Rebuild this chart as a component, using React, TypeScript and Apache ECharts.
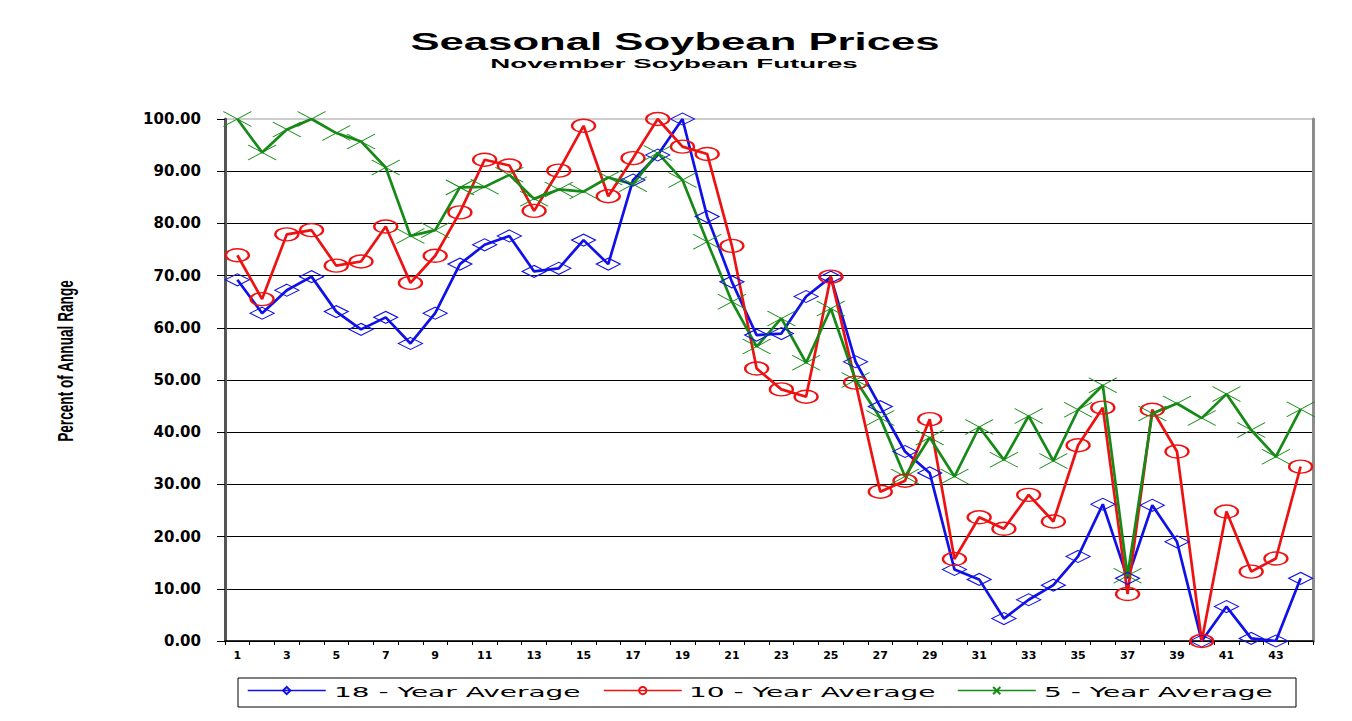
import { useEffect, useRef } from "react";
import * as echarts from "echarts";

// Week numbers of the season (x categories)
const weeks = [
  "1", "2", "3", "4", "5", "6", "7", "8", "9", "10", "11",
  "12", "13", "14", "15", "16", "17", "18", "19", "20", "21", "22",
  "23", "24", "25", "26", "27", "28", "29", "30", "31", "32", "33",
  "34", "35", "36", "37", "38", "39", "40", "41", "42", "43", "44",
];

// Percent of annual range, by week
const avg18 = [
  69.2, 62.8, 67.2, 69.8, 63.1, 59.7, 62.0, 57.0, 62.8, 72.2, 75.9,
  77.6, 70.8, 71.4, 76.8, 72.2, 88.3, 93.1, 100.0, 81.3, 68.8, 58.6,
  58.9, 66.0, 69.7, 53.5, 44.9, 36.3, 32.2, 13.7, 11.8, 4.3, 7.9,
  10.7, 16.2, 26.2, 12.0, 26.0, 19.0, 0.0, 6.6, 0.5, 0.0, 12.0,
];

const avg10 = [
  73.9, 65.5, 77.9, 78.7, 71.9, 72.7, 79.4, 68.6, 73.8, 82.1, 92.2,
  91.1, 82.4, 90.1, 98.7, 85.2, 92.5, 100.0, 94.7, 93.3, 75.7, 52.2,
  48.2, 46.8, 69.8, 49.5, 28.6, 30.7, 42.5, 15.7, 23.7, 21.5, 28.0,
  22.9, 37.5, 44.7, 9.0, 44.3, 36.3, 0.0, 24.8, 13.3, 15.8, 33.4,
];

const avg5 = [
  100.0, 93.6, 98.0, 100.0, 97.3, 95.7, 90.7, 77.6, 78.7, 86.9, 87.0,
  89.3, 84.7, 86.5, 86.1, 88.8, 87.5, 93.5, 88.3, 76.5, 65.0, 56.4,
  61.8, 53.3, 63.7, 50.0, 42.7, 31.5, 39.0, 31.5, 41.0, 34.7, 43.1,
  34.5, 44.3, 49.0, 12.5, 43.6, 45.5, 42.7, 47.3, 40.4, 35.3, 44.4,
];

const seriesNames = ["18 - Year Average", "10 - Year Average", "5 - Year Average"];
const yTicks = { min: 0, max: 100, step: 10 };

const BLUE = "#1010e8";
const RED = "#ee1111";
const GREEN = "#168a16";

const ELLIPSE = "path://M-1,0A1,1 0 1 0 1,0A1,1 0 1 0 -1,0Z";
const CROSS = "path://M0,0L1,1M1,0L0,1";

const ARIAL = "'Liberation Sans', Arial, sans-serif";

// Horizontally stretched text block used for the titles and legend captions
function wideText(text: string, x: number, y: number, font: string, scaleX: number, align = "center") {
  return {
    type: "text",
    x,
    y,
    scaleX,
    silent: true,
    style: {
      text,
      font,
      fill: "#000",
      align,
      verticalAlign: "middle",
      textAlign: align,
      textVerticalAlign: "middle",
    },
  };
}

export default function App() {
  const ref = useRef<HTMLDivElement>(null);

  useEffect(() => {
    if (!ref.current) return;
    const chart = echarts.init(ref.current, undefined, { renderer: "svg" });

    // Each legend entry sits in its own slot inside one framed box
    const legendBase = {
      top: 686,
      padding: 0,
      itemWidth: 78,
      itemHeight: 9,
      itemGap: 0,
      selectedMode: false,
      formatter: () => "",
      lineStyle: { width: 1.5 },
      textStyle: { fontSize: 1 },
    };
    const legendSlots = [247, 603, 957];
    const captionSlots = [334, 689, 1044];

    chart.setOption({
      animation: false,
      backgroundColor: "#ffffff",
      textStyle: { fontFamily: ARIAL },
      grid: {
        left: 225,
        right: 39,
        top: 119,
        bottom: 80,
        show: true,
        borderColor: "#9a9a9a",
        borderWidth: 1,
      },
      graphic: [
        wideText("Seasonal Soybean Prices", 675, 41, `bold 24px ${ARIAL}`, 1.82),
        wideText("November Soybean Futures", 674, 63, `bold 13.5px ${ARIAL}`, 2.05),
        {
          type: "text",
          x: 65,
          y: 361,
          rotation: Math.PI / 2,
          scaleX: 1.05,
          scaleY: 1.7,
          silent: true,
          style: {
            text: "Percent of Annual Range",
            font: `bold 13px ${ARIAL}`,
            fill: "#000",
            align: "center",
            verticalAlign: "middle",
            textAlign: "center",
            textVerticalAlign: "middle",
          },
        },
        {
          type: "rect",
          shape: { x: 238, y: 678, width: 1058, height: 29 },
          style: { fill: "none", stroke: "#000", lineWidth: 1 },
          silent: true,
        },
        ...seriesNames.map((n, i) =>
          wideText(n, captionSlots[i], 692, "14px 'DejaVu Sans', sans-serif", 2.0, "left")
        ),
      ],
      legend: seriesNames.map((n, i) => ({ ...legendBase, left: legendSlots[i], data: [n] })),
      xAxis: {
        type: "category",
        data: weeks,
        boundaryGap: true,
        axisLine: { show: true, lineStyle: { color: "#000", width: 1.5 } },
        axisTick: { show: true, interval: 0, length: 4, lineStyle: { color: "#000" } },
        axisLabel: {
          interval: 1,
          color: "#000",
          fontFamily: "DejaVu Sans",
          fontWeight: "bold",
          fontSize: 11,
          margin: 9,
        },
        splitLine: { show: false },
      },
      yAxis: [
        {
          type: "value",
          min: yTicks.min,
          max: yTicks.max,
          interval: yTicks.step,
          axisLine: { show: true, lineStyle: { color: "#555", width: 3 } },
          axisTick: { show: true, length: 8, lineStyle: { color: "#000" } },
          axisLabel: {
            formatter: (v: number) => v.toFixed(2),
            color: "#000",
            fontFamily: "DejaVu Sans",
            fontWeight: "bold",
            fontSize: 15,
            margin: 24,
          },
          splitLine: {
            show: true,
            showMaxLine: false,
            lineStyle: { color: "#000", width: 1 },
          },
        },
        {
          type: "value",
          position: "right",
          min: yTicks.min,
          max: yTicks.max,
          interval: yTicks.step,
          axisLine: { show: true, lineStyle: { color: "#8c8c8c", width: 3 } },
          axisTick: { show: false },
          axisLabel: { show: false },
          splitLine: { show: false },
        },
      ],
      series: [
        {
          name: seriesNames[0],
          type: "line",
          data: avg18,
          symbol: "diamond",
          symbolSize: [24, 12],
          lineStyle: { color: BLUE, width: 2.7 },
          itemStyle: { color: "rgba(0,0,0,0)", borderColor: BLUE, borderWidth: 1.2 },
          emphasis: { disabled: true },
        },
        {
          name: seriesNames[1],
          type: "line",
          data: avg10,
          symbol: ELLIPSE,
          symbolSize: [23, 13],
          lineStyle: { color: RED, width: 2.7 },
          itemStyle: { color: "rgba(0,0,0,0)", borderColor: RED, borderWidth: 1.8 },
          emphasis: { disabled: true },
        },
        {
          name: seriesNames[2],
          type: "line",
          data: avg5,
          symbol: CROSS,
          symbolSize: [28, 15],
          lineStyle: { color: GREEN, width: 2.7 },
          itemStyle: { color: "rgba(0,0,0,0)", borderColor: GREEN, borderWidth: 1 },
          emphasis: { disabled: true },
        },
      ],
    });

    return () => chart.dispose();
  }, []);

  return (
    <div
      ref={ref}
      style={{ position: "fixed", left: 0, top: 0, width: 1352, height: 721, background: "#fff" }}
    />
  );
}
